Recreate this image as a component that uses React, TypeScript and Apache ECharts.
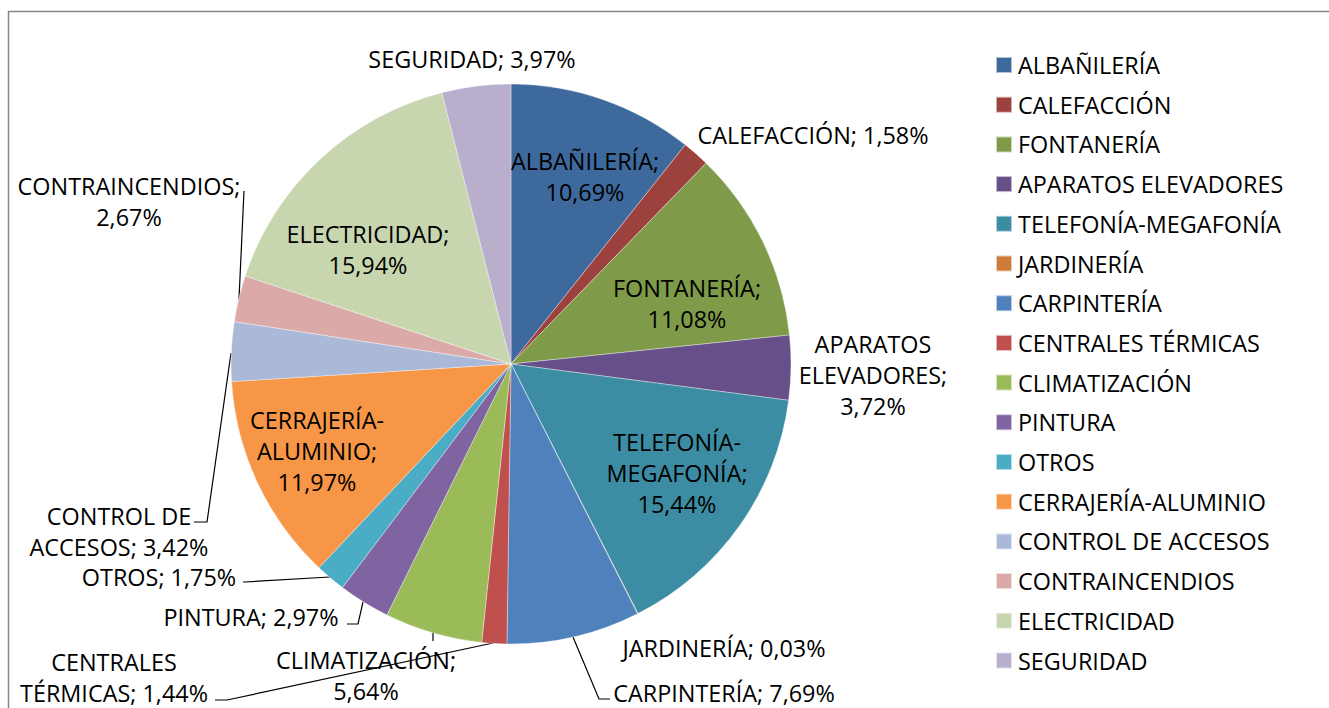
import React, { useEffect, useRef } from "react";
import * as echarts from "echarts";

const categories = [
  "ALBAÑILERÍA",
  "CALEFACCIÓN",
  "FONTANERÍA",
  "APARATOS ELEVADORES",
  "TELEFONÍA-MEGAFONÍA",
  "JARDINERÍA",
  "CARPINTERÍA",
  "CENTRALES TÉRMICAS",
  "CLIMATIZACIÓN",
  "PINTURA",
  "OTROS",
  "CERRAJERÍA-ALUMINIO",
  "CONTROL DE ACCESOS",
  "CONTRAINCENDIOS",
  "ELECTRICIDAD",
  "SEGURIDAD",
];

const values = [
  10.69, 1.58, 11.08, 3.72, 15.44, 0.03, 7.69, 1.44, 5.64, 2.97, 1.75, 11.97,
  3.42, 2.67, 15.94, 3.97,
];

const colors = [
  "#3E699D",
  "#9D413E",
  "#7F9A48",
  "#67508A",
  "#3C8DA3",
  "#CC7B38",
  "#4F81BD",
  "#C0504D",
  "#9BBB59",
  "#8064A2",
  "#4BACC6",
  "#F79646",
  "#A9B9D7",
  "#DBA9A8",
  "#C7D6AF",
  "#B9AECC",
];

// label wrapping style per slice
const labelModes = [
  "stack",
  "line",
  "stack",
  "split",
  "split",
  "line",
  "line",
  "splitJoin",
  "stack",
  "line",
  "line",
  "split",
  "splitJoin",
  "stack",
  "stack",
  "line",
];

// label centre positions (layout)
const labelPos: [number, number][] = [
  [585, 176],
  [813, 135],
  [687, 303],
  [873, 375],
  [677, 473],
  [724, 648],
  [724, 693],
  [114, 677],
  [366, 675],
  [251, 617],
  [159, 577],
  [317, 451],
  [119, 531],
  [129, 201],
  [368, 249],
  [472, 59],
];

// leader line points (layout)
const leaderPoints: ([number, number][] | null)[] = [
  null,
  null,
  null,
  null,
  null,
  null,
  [[573, 637], [599, 699], [610, 699]],
  [[493, 643], [227, 700], [215, 700]],
  [[433, 632], [433, 641], [433, 641]],
  [[363, 602], [358, 624], [347, 624]],
  [[330, 577], [245, 582], [243, 582]],
  null,
  [[231, 353], [207, 522], [194, 522]],
  [[239, 299], [244, 191], [244, 191]],
  null,
  null,
];

const FONT = "'Open Sans', sans-serif";
const FS = 23.4;

function pct(v: number) {
  return v.toFixed(2).replace(".", ",") + "%";
}

function labelText(i: number, name: string, v: number) {
  const mode = labelModes[i];
  const p = pct(v);
  if (mode === "line") return `${name}; ${p}`;
  if (mode === "stack") return `${name};\n${p}`;
  if (mode === "split") {
    const h = name.indexOf("-");
    if (h >= 0) return `${name.slice(0, h + 1)}\n${name.slice(h + 1)};\n${p}`;
    const s = name.indexOf(" ");
    return `${name.slice(0, s)}\n${name.slice(s + 1)};\n${p}`;
  }
  const s = name.lastIndexOf(" ");
  return `${name.slice(0, s)}\n${name.slice(s + 1)}; ${p}`;
}

export default function App() {
  const ref = useRef<HTMLDivElement>(null);
  useEffect(() => {
    document.body.style.margin = "0";
    if (!ref.current) return;
    const chart = echarts.init(ref.current, undefined, { renderer: "svg" });
    const data = categories.map((name, i) => ({
      name,
      value: values[i],
      itemStyle: { color: colors[i] },
      labelLine: { show: !!leaderPoints[i] },
    }));
    chart.setOption({
      animation: false,
      backgroundColor: "#ffffff",
      textStyle: { fontFamily: FONT },
      graphic: [
        {
          type: "rect",
          silent: true,
          z: -10,
          shape: { x: 8.5, y: 11.5, width: 1400, height: 800 },
          style: { fill: "none", stroke: "#868686", lineWidth: 1.5 },
        },
      ],
      legend: {
        orient: "vertical",
        left: 995,
        top: 53,
        padding: 0,
        icon: "rect",
        itemWidth: 16,
        itemHeight: 16,
        itemGap: 15.7,
        selectedMode: false,
        data: categories,
        textStyle: {
          fontFamily: FONT,
          fontSize: FS,
          lineHeight: 24,
          color: "#000",
          padding: [0, 0, 0, 1],
        },
      },
      series: [
        {
          type: "pie",
          center: [511, 364],
          radius: 280,
          startAngle: 90,
          clockwise: true,
          avoidLabelOverlap: false,
          emphasis: { disabled: true },
          itemStyle: { borderColor: "rgba(255,255,255,0.6)", borderWidth: 0.6 },
          label: {
            show: true,
            position: "outside",
            color: "#000",
            fontFamily: FONT,
            fontSize: FS,
            lineHeight: 31,
            align: "center",
            formatter: (p: any) => labelText(p.dataIndex, p.name, p.value),
          },
          labelLine: {
            show: true,
            smooth: false,
            lineStyle: { color: "#000", width: 1.2 },
          },
          labelLayout: (params: any) => {
            const i = params.dataIndex;
            const pos = labelPos[i];
            const res: any = {
              x: pos[0],
              y: pos[1],
              align: "center",
              verticalAlign: "middle",
            };
            const lp = leaderPoints[i];
            if (lp) res.labelLinePoints = lp;
            return res;
          },
          data,
        },
      ],
    });
    return () => chart.dispose();
  }, []);
  return <div ref={ref} style={{ width: 1329, height: 708 }} />;
}
